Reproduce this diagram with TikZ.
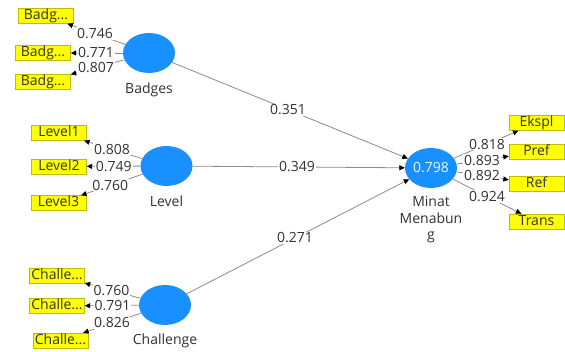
\documentclass[tikz,border=0pt]{standalone}
\usepackage{fontspec}
\setmainfont{Open Sans}
\usetikzlibrary{arrows.meta,positioning,calc,shapes.geometric}
\definecolor{lvblue}{RGB}{24,144,255}
\definecolor{edgegray}{RGB}{140,140,140}
\definecolor{txtgray}{RGB}{50,50,50}
\definecolor{boxyellow}{RGB}{255,255,0}
\definecolor{boxedge}{RGB}{190,190,0}
\begin{document}
\begin{tikzpicture}[x=1pt,y=-1pt,
  font=\fontsize{14}{16.5}\selectfont,
  latent/.style={ellipse, fill=lvblue, minimum width=52pt, minimum height=40pt, inner sep=0pt, text=white!92!lvblue},
  ind/.style={rectangle, fill=boxyellow, draw=boxedge, line width=0.4pt, minimum width=55pt,
              text height=10pt, text depth=2pt, inner sep=1.5pt, text=txtgray},
  wt/.style={fill=white, inner sep=1pt, text=txtgray},
  lvname/.style={text=txtgray, inner sep=0pt},
  link/.style={draw=edgegray, line width=0.8pt, -{Triangle[length=5.5pt,width=5pt,color=black]}}]

  \fill[white] (0,0) rectangle (565,352);
  \useasboundingbox (0,0) rectangle (565,352);

  % latent variables
  \node[latent] (badges) at (149,53) {};
  \node[latent] (level) at (166.5,166) {};
  \node[latent] (chal) at (165,305) {};
  \node[latent] (minat) at (431,168) {0.798};

  \node[lvname, below=9pt of badges] (badgesl) {Badges};
  \node[lvname, below=9pt of level] (levell) {Level};
  \node[lvname, below=8pt of chal] (chall) {Challenge};
  \node[lvname, below=8pt of minat, align=center] (minatl) {Minat\\Menabun\\g};

  % indicators
  \node[ind] (b1) at (46,16) {Badg...};
  \node[ind] (b2) at (43,53) {Badg...};
  \node[ind] (b3) at (43,82) {Badg...};
  \node[ind] (l1) at (59,133) {Level1};
  \node[ind] (l2) at (59,166.5) {Level2};
  \node[ind] (l3) at (58.5,203) {Level3};
  \node[ind] (c1) at (57,275.5) {Challe...};
  \node[ind] (c2) at (57,306) {Challe...};
  \node[ind] (c3) at (60.5,340.5) {Challe...};
  \node[ind] (e1) at (536.5,123) {Ekspl};
  \node[ind] (e2) at (536.5,152) {Pref};
  \node[ind] (e3) at (536.5,184) {Ref};
  \node[ind] (e4) at (536.5,221.5) {Trans};

  % outer loadings
  \foreach \s/\t in {badges/b1,badges/b2,badges/b3,level/l1,level/l2,level/l3,
                     chal/c1,chal/c2,chal/c3,minat/e1,minat/e2,minat/e3,minat/e4}
    \draw[link] (\s) -- (\t);

  % path coefficients
  \draw[link] (badges) -- (minat);
  \draw[link] (level) -- (minat);
  \draw[link] (chal) -- (minat);

  % weights
  \node[wt] (wb1) at ($(badges)!0.524!(b1)$) {0.746};
  \node[wt] (wb2) at ($(badges)!0.50!(b2)$) {0.771};
  \node[wt] (wb3) at ($(badges)!0.50!(b3)$) {0.807};
  \node[wt] (wl1) at ($(level)!0.507!(l1)$) {0.808};
  \node[wt] (wl2) at ($(level)!0.49!(l2)$) {0.749};
  \node[wt] (wl3) at ($(level)!0.52!(l3)$) {0.760};
  \node[wt] (wc1) at ($(chal)!0.495!(c1)$) {0.760};
  \node[wt] (wc2) at ($(chal)!0.486!(c2)$) {0.791};
  \node[wt] (wc3) at ($(chal)!0.507!(c3)$) {0.826};
  \node[wt] (we1) at ($(minat)!0.53!(e1)$) {0.818};
  \node[wt] (we2) at ($(minat)!0.483!(e2)$) {0.893};
  \node[wt] (we3) at ($(minat)!0.483!(e3)$) {0.892};
  \node[wt] (we4) at ($(minat)!0.53!(e4)$) {0.924};
  \node[wt] (pb) at ($(badges)!0.493!(minat)$) {0.351};
  \node[wt] (pl) at ($(level)!0.493!(minat)$) {0.349};
  \node[wt] (pc) at ($(chal)!0.489!(minat)$) {0.271};
\end{tikzpicture}
\end{document}
